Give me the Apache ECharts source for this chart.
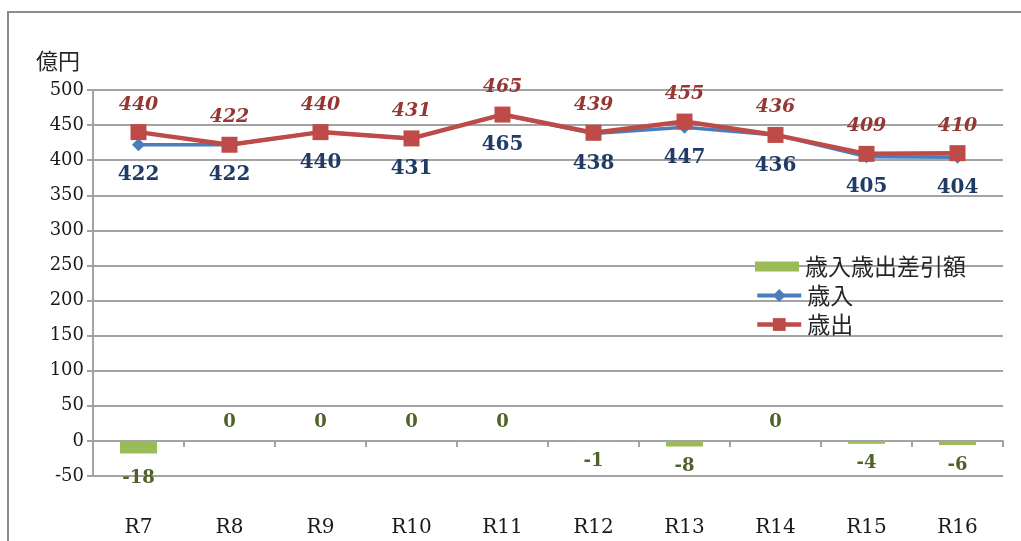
<!DOCTYPE html>
<html>
<head>
<meta charset="utf-8">
<script src="https://cdn.jsdelivr.net/npm/echarts@6/dist/echarts.min.js"></script>
<style>
  html, body { margin: 0; padding: 0; background: #fff; }
  #chart { width: 1021px; height: 541px; }
</style>
</head>
<body>
<div id="chart"></div>
<script>
// 年度別の歳入・歳出と差引額（億円）
const categories = ['R7', 'R8', 'R9', 'R10', 'R11', 'R12', 'R13', 'R14', 'R15', 'R16'];
const diffValues = [-18, 0, 0, 0, 0, -1, -8, 0, -4, -6];          // 歳入歳出差引額
const revenueValues = [422, 422, 440, 431, 465, 438, 447, 436, 405, 404]; // 歳入
const expenditureValues = [440, 422, 440, 431, 465, 439, 455, 436, 409, 410]; // 歳出
const yTicks = { min: -50, max: 500, interval: 50 };

const serif = '"DejaVu Serif", "Liberation Serif", serif';
const cjk = '"Noto Sans CJK JP", "Noto Sans", sans-serif';
const gridColor = '#a3a3a3';

const chart = echarts.init(document.getElementById('chart'));

// 負の差引額は棒の下、0 は基準線の上にラベルを置く
const diffData = diffValues.map(v => ({
  value: v,
  label: v < 0
    ? { position: 'bottom', distance: v <= -10 ? 16 : 11 }
    : { position: 'top', distance: 10 }
}));

const legendText = {
  fontFamily: cjk, fontSize: 23, color: '#262626', lineHeight: 22, padding: [0, 0, 0, 1]
};

chart.setOption({
  animation: false,
  backgroundColor: '#ffffff',
  graphic: [{
    type: 'rect',
    shape: { x: 8, y: 12, width: 1100, height: 600 },
    style: { fill: 'none', stroke: '#8c8c8c', lineWidth: 2 },
    silent: true
  }],
  grid: { left: 93, right: 18, top: 90, bottom: 65 },
  legend: [{
    orient: 'vertical',
    left: 750, top: 250,
    itemWidth: 44, itemHeight: 10,
    textStyle: legendText,
    data: [{ name: '歳入歳出差引額', icon: 'rect' }]
  }, {
    orient: 'vertical',
    left: 750, top: 279,
    itemWidth: 44, itemHeight: 16, itemGap: 6,
    textStyle: legendText,
    data: [
      { name: '歳入', lineStyle: { width: 4 } },
      { name: '歳出', lineStyle: { width: 4.5 } }
    ]
  }],
  xAxis: [{
    type: 'category',
    data: categories,
    position: 'bottom',
    axisLine: { show: false, onZero: false },
    axisTick: { show: false },
    axisLabel: { margin: 42, fontFamily: serif, fontSize: 20, color: '#1a1a1a' },
    splitLine: { show: false }
  }, {
    type: 'category',
    data: categories,
    position: 'bottom',
    axisLine: { show: true, onZero: true, lineStyle: { color: gridColor, width: 2 } },
    axisTick: { show: true, length: 6, lineStyle: { color: gridColor, width: 2 } },
    axisLabel: { show: false },
    splitLine: { show: false }
  }],
  yAxis: {
    type: 'value',
    min: yTicks.min, max: yTicks.max, interval: yTicks.interval,
    name: '億円',
    nameLocation: 'end',
    nameGap: 18,
    nameTextStyle: { fontFamily: cjk, fontSize: 22, color: '#262626', align: 'right', padding: [0, 13, 0, 0] },
    axisLine: { show: true, lineStyle: { color: gridColor, width: 2 } },
    axisTick: { show: true, length: 6, lineStyle: { color: gridColor, width: 2 } },
    axisLabel: { margin: 9, fontFamily: serif, fontSize: 18, color: '#1a1a1a' },
    splitLine: { show: true, lineStyle: { color: gridColor, width: 2 } }
  },
  series: [{
    name: '歳入歳出差引額',
    type: 'bar',
    xAxisIndex: 0,
    data: diffData,
    barWidth: 37,
    itemStyle: { color: '#9bbb59' },
    label: {
      show: true,
      fontFamily: serif, fontSize: 18, fontWeight: 'bold', color: '#4f6228'
    },
    z: 2
  }, {
    name: '歳入',
    type: 'line',
    xAxisIndex: 0,
    data: revenueValues,
    symbol: 'diamond',
    symbolSize: 13,
    lineStyle: { color: '#4a7ebb', width: 3.5 },
    itemStyle: { color: '#4a7ebb' },
    label: {
      show: true, position: 'bottom', distance: 14,
      fontFamily: serif, fontSize: 20, fontWeight: 'bold', color: '#1f3b66'
    },
    z: 3
  }, {
    name: '歳出',
    type: 'line',
    xAxisIndex: 0,
    data: expenditureValues,
    symbol: 'rect',
    symbolSize: 16,
    lineStyle: { color: '#be4b48', width: 4.5 },
    itemStyle: { color: '#be4b48' },
    label: {
      show: true, position: 'top', distance: 10,
      fontFamily: serif, fontStyle: 'italic', fontWeight: 'bold',
      fontSize: 19, color: '#953735'
    },
    z: 4
  }]
});
</script>
</body>
</html>
